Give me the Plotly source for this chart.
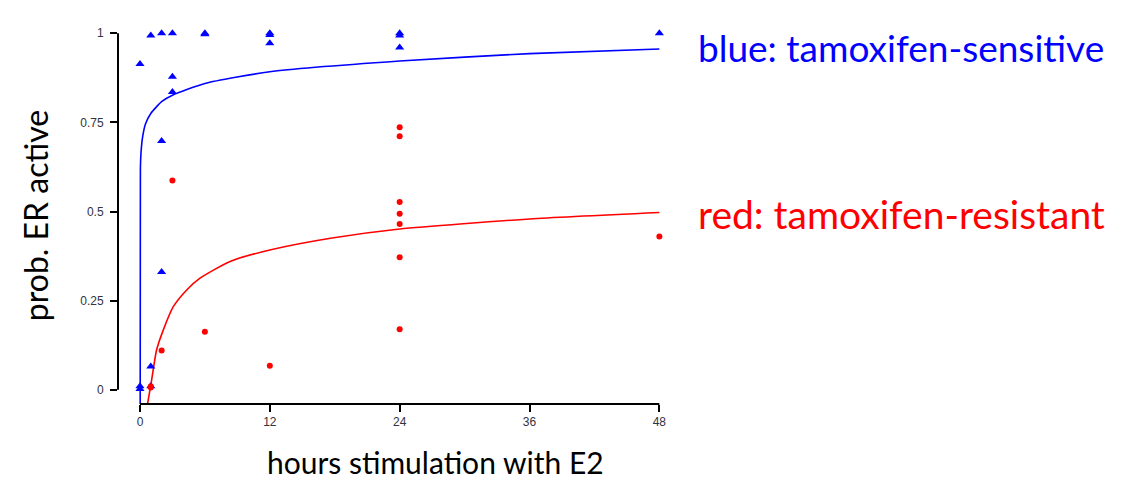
import plotly.graph_objects as go

# Tamoxifen-sensitive (blue triangles)
sens_hours = [0, 0, 0, 1, 1, 1, 2, 2, 2, 3, 3, 3, 6, 6, 12, 12, 12, 24, 24, 24, 48]
sens_prob = [0.914, 0.01, 0.002, 0.994, 0.065, 0.01, 1.0, 0.698, 0.33, 1.0, 0.878, 0.835,
             1.0, 0.997, 1.0, 0.995, 0.972, 1.0, 0.994, 0.96, 1.0]

# Tamoxifen-resistant (red circles)
res_hours = [1, 1, 2, 3, 6, 12, 24, 24, 24, 24, 24, 24, 24, 48]
res_prob = [0.006, 0.01, 0.11, 0.587, 0.163, 0.067, 0.736, 0.711, 0.527, 0.494, 0.465,
            0.372, 0.170, 0.43]

# Fitted curves
sens_fit_hours = [0.02, 0.04, 0.1, 0.25, 0.5, 1, 2, 3, 6, 12, 24, 36, 48]
sens_fit_prob = [-0.04, 0.62, 0.667, 0.71, 0.745, 0.775, 0.808, 0.826, 0.859, 0.892, 0.922, 0.943, 0.956]

res_fit_hours = [0.7, 1.08, 1.54, 2.16, 3.08, 4.32, 5.55, 8.33, 12, 17.6, 24, 36, 48]
res_fit_prob = [-0.04, 0.028, 0.112, 0.168, 0.233, 0.28, 0.313, 0.36, 0.392, 0.425, 0.451, 0.479, 0.497]

x_ticks = [0, 12, 24, 36, 48]
y_ticks = [0, 0.25, 0.5, 0.75, 1]
y_ticktext = ["0", "0.25", "0.5", "0.75", "1"]

BLUE = "#0000FF"
RED = "#FF0000"

fig = go.Figure()
fig.add_trace(go.Scatter(x=sens_fit_hours, y=sens_fit_prob, mode="lines",
                         line=dict(color=BLUE, width=1.6, shape="spline", smoothing=0.6),
                         showlegend=False, hoverinfo="skip"))
fig.add_trace(go.Scatter(x=res_fit_hours, y=res_fit_prob, mode="lines",
                         line=dict(color=RED, width=1.6, shape="spline", smoothing=0.6),
                         showlegend=False, hoverinfo="skip"))
fig.add_trace(go.Scatter(x=sens_hours, y=sens_prob, mode="markers",
                         marker=dict(symbol="triangle-up", size=8, color=BLUE, line=dict(width=0)),
                         showlegend=False))
fig.add_trace(go.Scatter(x=res_hours, y=res_prob, mode="markers",
                         marker=dict(symbol="circle", size=6, color=RED, line=dict(width=0)),
                         showlegend=False))

# axis lines (R style, spanning only the data range)
fig.add_shape(type="line", xref="paper", yref="y", x0=0, x1=0, y0=0, y1=1,
              line=dict(color="black", width=2))
fig.add_shape(type="line", xref="x", yref="paper", x0=0, x1=48, y0=0, y1=0,
              line=dict(color="black", width=2))

tick_font = dict(family="Liberation Sans, Arial", size=12, color="#333340")
fig.update_xaxes(range=[-2.03, 50.0], tickvals=x_ticks, ticks="outside", ticklen=7,
                 tickwidth=1.5, tickcolor="black", showgrid=False, zeroline=False,
                 showline=False, tickfont=tick_font)
fig.update_yaxes(range=[-0.04, 1.04], tickvals=y_ticks, ticktext=y_ticktext, ticks="outside",
                 ticklen=7, tickwidth=1.5, tickcolor="black", showgrid=False, zeroline=False,
                 showline=False, tickfont=tick_font, ticklabelstandoff=4)

fig.add_annotation(text="prob. ER active", xref="paper", yref="paper", x=-0.146, y=0.49,
                   textangle=-90, showarrow=False,
                   font=dict(family="Lato, Open Sans, sans-serif", size=32, color="black"),
                   xanchor="center", yanchor="middle")
fig.add_annotation(text="hours stimulation with E2", xref="paper", yref="paper", x=0.564, y=-0.151,
                   showarrow=False,
                   font=dict(family="Lato, Open Sans, sans-serif", size=30, color="black"),
                   xanchor="center", yanchor="middle")

fig.add_annotation(text="blue: tamoxifen-sensitive", xref="paper", yref="paper", x=1.026, y=0.926,
                   showarrow=False, xanchor="left", yanchor="middle",
                   font=dict(family="Lato, Open Sans, sans-serif", size=37, color=BLUE))
fig.add_annotation(text="red: tamoxifen-resistant", xref="paper", yref="paper", x=1.026, y=0.494,
                   showarrow=False, xanchor="left", yanchor="middle",
                   font=dict(family="Lato, Open Sans, sans-serif", size=39, color=RED))

fig.update_layout(width=1145, height=485, margin=dict(l=110, r=472, t=11, b=89),
                  plot_bgcolor="white", paper_bgcolor="white")

fig.write_html("out.html")
